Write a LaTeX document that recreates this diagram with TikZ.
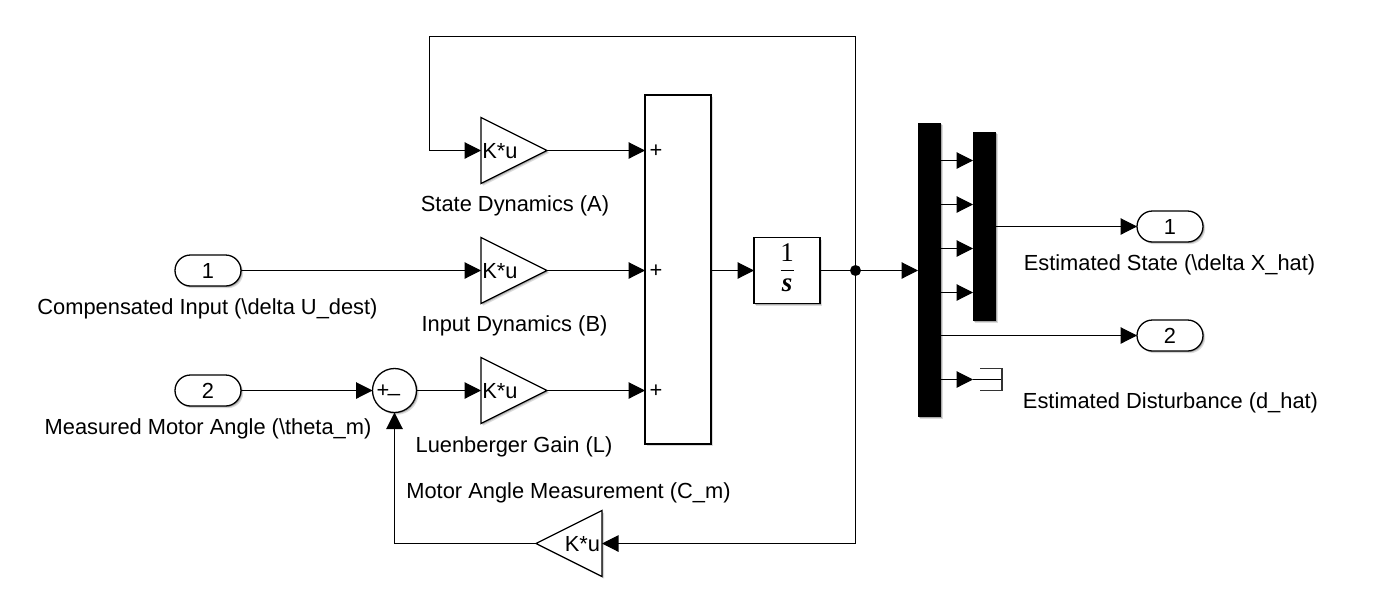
\documentclass[tikz,border=0pt]{standalone}
\usepackage{fontspec}
\setmainfont{Liberation Sans}
\newfontfamily\timesfont{Liberation Serif}
\usetikzlibrary{arrows.meta,shapes.geometric,shapes.misc,shadows}
\tikzset{
  softshadow/.style={general shadow={shadow xshift=2.2pt,shadow yshift=-2.2pt,fill=black,opacity=.14},
                     general shadow={shadow xshift=1.2pt,shadow yshift=-1.2pt,fill=black,opacity=.22}},
  block/.style={draw=black,line width=1.3pt,fill=white,inner sep=0pt,outer sep=0pt,softshadow},
  gain/.style={block,isosceles triangle,isosceles triangle stretches,shape border rotate=#1,
     minimum width=66pt,minimum height=66pt},
  bar/.style={fill=black,draw=none,inner sep=0pt,outer sep=0pt,softshadow},
  port/.style={block,rounded rectangle,minimum width=66pt,minimum height=31pt,font=\fontsize{21.8}{24}\selectfont},
  lab/.style={inner sep=0pt,outer sep=0pt,font=\fontsize{21.85}{24}\selectfont},
  fracnum/.style={inner sep=0pt,outer sep=0pt,font=\fontsize{27}{30}\selectfont\timesfont},
  sig/.style={draw=black,line width=1.1pt},
  arr/.style={sig,-{Triangle[length=16.5pt,width=16.5pt]}},
  dot/.style={circle,fill=black,minimum size=11pt,inner sep=0pt,outer sep=0pt},
}
\begin{document}
\begin{tikzpicture}[x=1pt,y=-1pt]
\useasboundingbox (0,0) rectangle (1384,606);
% blocks
\node[block,minimum width=66pt,minimum height=349pt] (sum) at (678,269.5) {};
\node[gain=0,anchor=apex] (ga) at (547,150.5) {};
\node[gain=0,anchor=apex] (gb) at (547,270.5) {};
\node[gain=0,anchor=apex] (gl) at (547,390.5) {};
\node[gain=180,anchor=apex] (gc) at (536,543.5) {};
\node[lab] (ka) at (500,151) {K*u};
\node[lab] (kb) at (500,271) {K*u};
\node[lab] (kl) at (500,391) {K*u};
\node[lab] (kc) at (582.5,544) {K*u};
\node[block,circle,minimum size=44pt] (err) at (394.5,390.5) {};
\node[lab] (pl) at (383,391) {+};
\node[lab] (mi) at (394,394) {\_};
\node[block,minimum width=66pt,minimum height=66pt] (int) at (787,270.5) {};
\node[fracnum] (one) at (787,253) {1};
\node[fracnum,font=\fontsize{27}{30}\selectfont\timesfont\bfseries\itshape] (ess) at (787,285) {s};
\coordinate (ra) at (780.5,270.5);
\coordinate (rb) at (793.5,270.5);
\node[dot] (j) at (855.5,270.5) {};
\node[bar,minimum width=23pt,minimum height=294pt] (dem) at (929.5,270) {};
\node[bar,minimum width=23pt,minimum height=189pt] (mux) at (984.5,226.5) {};
\node[port] (in1) at (208,270.5) {1};
\node[port] (in2) at (208,390.5) {2};
\node[port] (out1) at (1170,226.5) {1};
\node[port] (out2) at (1170,335.5) {2};
% plus signs on the sum block
\node[lab] (p1) at (656,151) {+};
\node[lab] (p2) at (656,271) {+};
\node[lab] (p3) at (656,391) {+};
% labels
\node[lab] (la) at (515,206) {State Dynamics (A)};
\node[lab] (lb) at (514.5,326) {Input Dynamics (B)};
\node[lab] (ll) at (514,447) {Luenberger Gain (L)};
\node[lab] (lc) at (568.5,493) {Motor Angle Measurement (C\_m)};
\node[lab] (li1) at (207.5,309) {Compensated Input (\textbackslash delta U\_dest)};
\node[lab] (li2) at (208,429) {Measured Motor Angle (\textbackslash theta\_m)};
\node[lab] (lo1) at (1169.5,265) {Estimated State (\textbackslash delta X\_hat)};
\node[lab] (lo2) at (1170.5,403) {Estimated Disturbance (d\_hat)};
% helper coordinates
\coordinate (tr) at (855.5,36.5);
\coordinate (tl) at (429.5,36.5);
\coordinate (br) at (855.5,543.5);
\coordinate (bl) at (394.5,543.5);
\coordinate (m1) at (973,160.5);
\coordinate (m2) at (973,204.5);
\coordinate (m3) at (973,248.5);
\coordinate (m4) at (973,292.5);
\coordinate (t0) at (973,379.5);
\coordinate (te) at (1002,379.5);
\coordinate (ta) at (980,368.5);
\coordinate (tb) at (1002,368.5);
\coordinate (tc) at (1002,390.5);
\coordinate (td) at (980,390.5);
% connectors
\draw[line width=1.1pt] (ra) -- (rb);
\draw[arr] (j.center) -- (tr) -- (tl) |- (ga.lower side);
\draw[arr] (ga.apex) -- (ga.apex -| sum.west);
\draw[arr] (in1.east) -- (in1.east -| gb.lower side);
\draw[arr] (gb.apex) -- (gb.apex -| sum.west);
\draw[arr] (in2.east) -- (in2.east -| err.west);
\draw[arr] (err.east) -- (gl.lower side);
\draw[arr] (gl.apex) -- (gl.apex -| sum.west);
\draw[arr] (int.west -| sum.east) -- (int.west);
\draw[sig] (int.east) -- (j.center);
\draw[arr] (j.center) -- (j.center -| dem.west);
\draw[arr] (j.center) -- (br) -- (gc.lower side);
\draw[arr] (gc.apex) -- (bl) -- (err.south);
\draw[arr] (m1 -| dem.east) -- (m1);
\draw[arr] (m2 -| dem.east) -- (m2);
\draw[arr] (m3 -| dem.east) -- (m3);
\draw[arr] (m4 -| dem.east) -- (m4);
\draw[arr] (out1.west -| mux.east) -- (out1.west);
\draw[arr] (out2.west -| dem.east) -- (out2.west);
\draw[arr] (t0 -| dem.east) -- (t0);
\draw[sig] (t0) -- (te);
\draw[draw=black!80,line width=1.1pt] (ta) -- (tb) -- (tc) -- (td);
\end{tikzpicture}
\end{document}
